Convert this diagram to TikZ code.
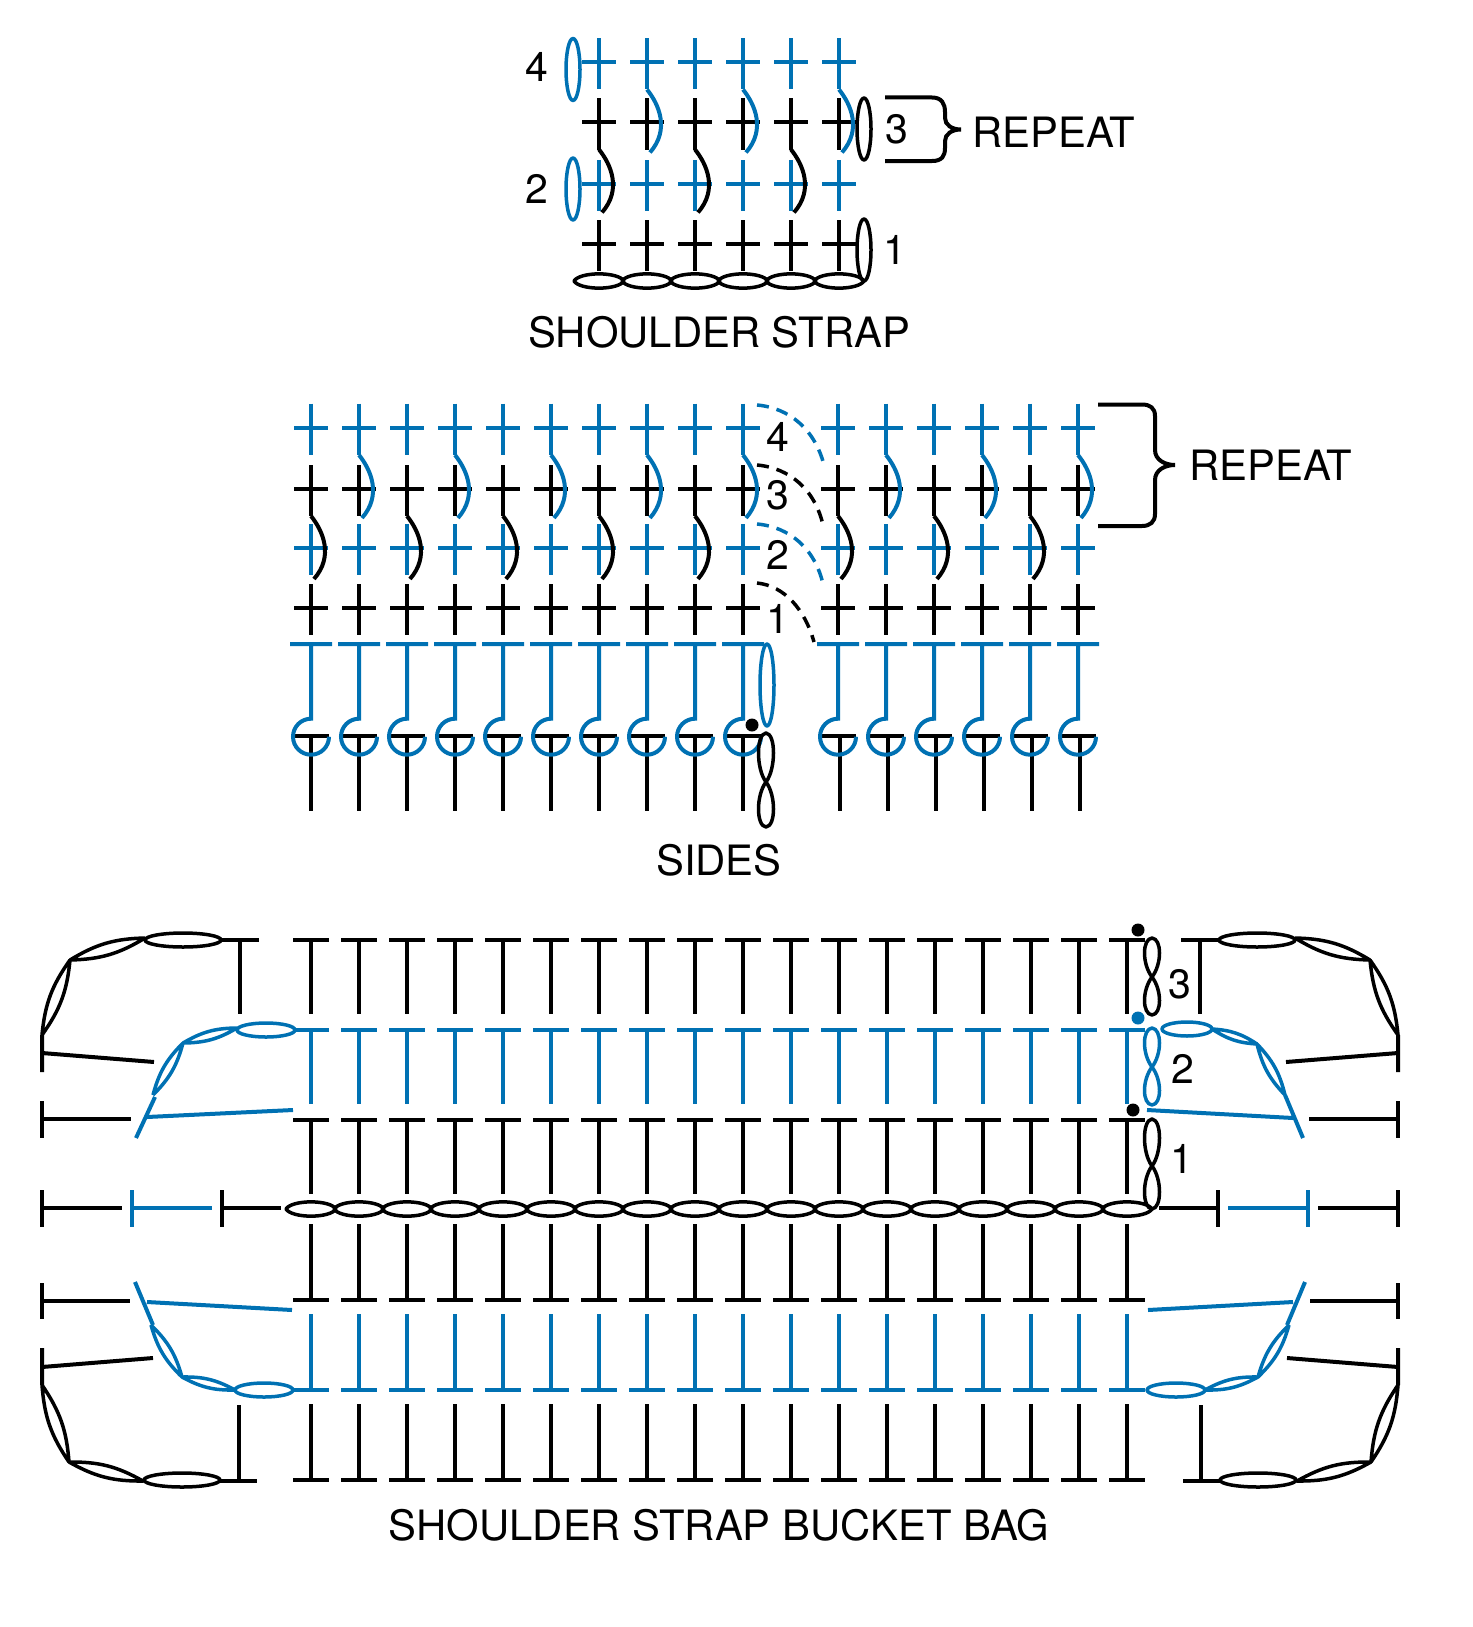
\documentclass[tikz,border=0pt]{standalone}
\usepackage{fontspec}
\setmainfont{TeX Gyre Heros}
\usetikzlibrary{positioning}
\definecolor{chartblue}{RGB}{0,113,179}
\tikzstyle{blackline} = [line width=4pt, black]
\tikzstyle{blueline} = [line width=4pt, chartblue]
\tikzstyle{loopline} = [line width=3.5pt, line join=round]
\tikzstyle{dashline} = [line width=3.5pt, dash pattern=on 12pt off 8pt]
\tikzstyle{title} = [inner sep=0pt, font=\fontsize{41.8}{42}\selectfont]
\tikzstyle{rownum} = [inner sep=0pt, font=\fontsize{41}{41}\selectfont]
\newcommand{\crossrow}[3]{\foreach \cx in {#2} {\draw [#1] (\cx-17,#3) -- (\cx+17,#3) (\cx,#3-24) -- (\cx,#3+27);}}
\newcommand{\twist}[3]{\foreach \cx in {#2} {\draw [#1] (\cx,#3) .. controls (\cx+12,#3+15) and (\cx+23,#3+40) .. (\cx+3,#3+63);}}
\newcommand{\lens}[3]{\draw [#1, loopline] #2 to[bend left=15] #3 to[bend left=15] #2;}
\newcommand{\tstitch}[4]{\foreach \cx in {#2} {\draw [#1] (\cx-18,#3) -- (\cx+18,#3) (\cx,#3) -- (\cx,#4);}}
% one chain link across, and two links upright with a crossing
\newcommand{\chainlink}[2]{\draw [black, loopline] (#1-25,#2) .. controls (#1-19,#2-9.5) and (#1+19,#2-9.5) .. (#1+25,#2) .. controls (#1+19,#2+9.5) and (#1-19,#2+9.5) .. (#1-25,#2) -- cycle;}
\newcommand{\figeight}[5]{\draw [#1, loopline] (#2,#3) .. controls (#2+10,#3+1) and (#2+10,#4-13) .. (#2,#4) .. controls (#2-10,#4+13) and (#2-10,#5-1) .. (#2,#5) .. controls (#2+10,#5-1) and (#2+10,#4+13) .. (#2,#4) .. controls (#2-10,#4-13) and (#2-10,#3+1) .. (#2,#3) -- cycle;}
% outer black corners and end rows, drawn once for each side
\newcommand{\bagsides}{
\draw [blackline] (221,940) -- (259,940) (240,940) -- (240,1014);
\draw [black, loopline] (183,940) ellipse [x radius=38pt, y radius=7pt];
\lens{black}{(145,938)}{(70,960)}
\lens{black}{(70,960)}{(42,1035)}
\draw [blackline] (42,1035) -- (42,1072) (42,1053) -- (154,1062);
\draw [blackline] (42,1101) -- (42,1138) (42,1119) -- (131,1119);
\draw [blackline] (42,1190) -- (42,1227) (42,1208) -- (122,1208);
\draw [blueline] (132,1190) -- (132,1227) (132,1208) -- (212,1208);
\draw [blackline] (222,1190) -- (222,1227) (222,1208) -- (281,1208);
\draw [blackline] (42,1283) -- (42,1319) (42,1301) -- (130,1301);
\draw [blackline] (42,1348) -- (42,1385) (42,1367) -- (153,1358);
\lens{black}{(42,1385)}{(69,1462)}
\lens{black}{(69,1462)}{(143,1481)}
\draw [black, loopline] (182,1480) ellipse [x radius=38pt, y radius=7pt];
\draw [blackline] (220,1481) -- (257,1481) (239,1405) -- (239,1481);
\draw [blueline] (147,1302) -- (292,1310) (135,1282) -- (153,1325);
\lens{chartblue}{(151,1325)}{(182,1377)}
\lens{chartblue}{(182,1377)}{(235,1390)}
\draw [chartblue, loopline] (264,1390) ellipse [x radius=29pt, y radius=7pt];
}
\begin{document}
\begin{tikzpicture}[x=1pt, y=-1pt]
\useasboundingbox (0,0) rectangle (1472,1627);

% shoulder strap
\crossrow{blueline}{599,647,...,839}{62.5}
\crossrow{blackline}{599,647,...,839}{122.5}
\crossrow{blueline}{599,647,...,839}{184}
\crossrow{blackline}{599,647,...,839}{244}
\twist{blueline}{647,743,839}{89.5}
\twist{blackline}{599,695,791}{149.5}
\foreach \cx in {599,647,...,839} {\chainlink{\cx}{281}}
\draw [chartblue, loopline] (573,69.5) ellipse [x radius=7pt, y radius=31pt];
\draw [chartblue, loopline] (573,189) ellipse [x radius=7pt, y radius=31pt];
\draw [black, loopline] (864,129) ellipse [x radius=7pt, y radius=31pt];
\draw [black, loopline] (864,250) ellipse [x radius=7pt, y radius=31pt];
\node (strapfour) [rownum] at (537,67) {4};
\node (straptwo) [rownum] at (537,189) {2};
\node (strapthree) [rownum] at (897,129) {3};
\node (strapone) [rownum] at (895,250) {1};
\draw [blackline] (885,97.5) -- (932,97.5) .. controls (942,97.5) and (945,104) .. (945,112) -- (945,118) .. controls (945,125) and (952,129.5) .. (961,129.5) .. controls (952,129.5) and (945,134) .. (945,141) -- (945,148) .. controls (945,156) and (942,161) .. (932,161) -- (885,161);
\node (straprepeat) [title, anchor=west] at (972,132) {REPEAT};
\node (straptitle) [title] at (719,332) {SHOULDER STRAP};

% sides
\foreach \rowy/\rowstyle in {427.7/blueline,489/blackline,548.3/blueline,608.3/blackline} {
\crossrow{\rowstyle}{311,359,...,743}{\rowy}
\crossrow{\rowstyle}{838,886,...,1078}{\rowy}
}
\twist{blueline}{359,455,...,743}{455}
\twist{blueline}{886,982,1078}{455}
\twist{blackline}{311,407,...,695}{516}
\twist{blackline}{838,934,1030}{516}
\foreach \cx in {311,359,...,743} {
\draw [blackline] (\cx-18,736) -- (\cx+18,736) (\cx,736) -- (\cx,811);
\draw [blueline] (\cx-21,644) -- (\cx+21,644) (\cx,644) -- (\cx,718.7) arc[start angle=90, end angle=360, radius=18pt];
}
\foreach \cx in {838,886,...,1078} {
\draw [blackline] (\cx-18,736) -- (\cx+18,736) (\cx+2,736) -- (\cx+2,811);
\draw [blueline] (\cx-21,644) -- (\cx+21,644) (\cx,644) -- (\cx,718.7) arc[start angle=90, end angle=360, radius=18pt];
}
\draw [chartblue, loopline] (767,685) ellipse [x radius=7pt, y radius=41pt];
\figeight{black}{766}{733}{782}{827}
\fill [black] (752,725) circle [radius=6.5pt];
\draw [chartblue, dashline] (757,405) .. controls (790,408) and (815,430) .. (824,465);
\draw [black, dashline] (757,465) .. controls (790,468) and (815,490) .. (823,525);
\draw [chartblue, dashline] (757,524) .. controls (790,527) and (815,549) .. (823,584);
\draw [black, dashline] (757,583) .. controls (785,586) and (805,610) .. (814,642);
\node (sidefour) [rownum] at (778,437) {4};
\node (sidethree) [rownum] at (778,495) {3};
\node (sidetwo) [rownum] at (778,555) {2};
\node (sideone) [rownum] at (778,619) {1};
\draw [blackline] (1098,404.5) -- (1142,404.5) .. controls (1150,404.5) and (1155,408) .. (1155,416) -- (1155,450) .. controls (1155,460) and (1165,465) .. (1175,465) .. controls (1165,465) and (1155,470) .. (1155,480) -- (1155,514) .. controls (1155,522) and (1150,526) .. (1142,526) -- (1098,526);
\node (siderepeat) [title, anchor=west] at (1189,465) {REPEAT};
\node (sidetitle) [title] at (719,860) {SIDES};

% bucket bag
\tstitch{blackline}{311,359,...,1127}{940}{1014}
\tstitch{blueline}{311,359,...,1127}{1029.5}{1104}
\tstitch{blackline}{311,359,...,1127}{1119.5}{1194}
\tstitch{blackline}{311,359,...,1127}{1300}{1224}
\tstitch{blueline}{311,359,...,1127}{1389.5}{1314}
\tstitch{blackline}{311,359,...,1127}{1480}{1404}
\foreach \cx in {311,359,...,1127} {\chainlink{\cx}{1209}}
\figeight{black}{1152}{1119}{1166}{1209}
\figeight{chartblue}{1152}{1028}{1067}{1105}
\figeight{black}{1152}{938}{977}{1015}
\fill [black] (1138,930) circle [radius=6.5pt];
\fill [chartblue] (1138,1018) circle [radius=6.5pt];
\fill [black] (1133,1110) circle [radius=6.5pt];
\node (bagthree) [rownum] at (1180,984) {3};
\node (bagtwo) [rownum] at (1183,1069) {2};
\node (bagone) [rownum] at (1182,1159) {1};
\bagsides
\begin{scope}[xshift=1440pt, xscale=-1]
\bagsides
\end{scope}
% blue rows of the upper corners
\draw [blueline] (293,1110) -- (147,1117) (136,1138) -- (155,1097);
\lens{chartblue}{(153,1095)}{(183,1043)}
\lens{chartblue}{(183,1043)}{(237,1028)}
\draw [chartblue, loopline] (266,1030) ellipse [x radius=29pt, y radius=7pt];
\draw [blueline] (1147,1110) -- (1293,1118) (1303,1138) -- (1285,1095);
\lens{chartblue}{(1285,1095)}{(1257,1044)}
\lens{chartblue}{(1257,1044)}{(1212,1029)}
\draw [chartblue, loopline] (1187,1029) ellipse [x radius=25pt, y radius=7pt];
\node (bagtitle) [title] at (719,1525) {SHOULDER STRAP BUCKET BAG};

\end{tikzpicture}
\end{document}
